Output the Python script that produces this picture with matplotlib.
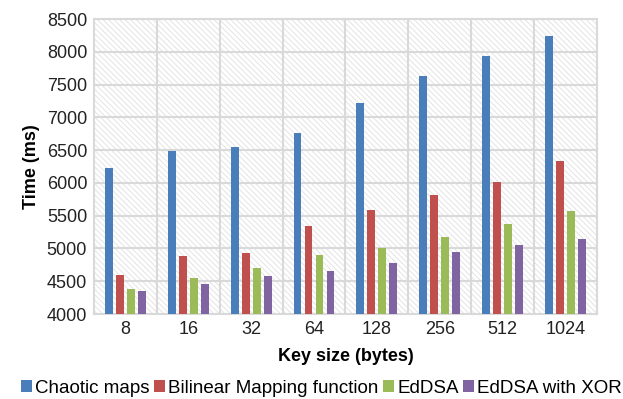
import matplotlib.pyplot as plt
import numpy as np
from matplotlib.patches import Rectangle

plt.rcParams['font.family'] = ['Liberation Sans', 'DejaVu Sans']
plt.rcParams['hatch.linewidth'] = 0.7

key_sizes = ['8', '16', '32', '64', '128', '256', '512', '1024']
chaotic = [6225, 6490, 6555, 6755, 7215, 7630, 7935, 8245]
bilinear = [4590, 4885, 4925, 5350, 5585, 5815, 6020, 6330]
eddsa = [4375, 4555, 4700, 4905, 5000, 5180, 5380, 5570]
eddsa_xor = [4355, 4460, 4575, 4655, 4780, 4950, 5055, 5140]

series = [
    ('Chaotic maps', chaotic, '#4a7ebb'),
    ('Bilinear Mapping function', bilinear, '#c0504d'),
    ('EdDSA', eddsa, '#9bbb59'),
    ('EdDSA with XOR', eddsa_xor, '#8064a2'),
]

fig = plt.figure(figsize=(6.23, 3.99), dpi=100)
ax = fig.add_axes([0.151, 0.213, 0.807, 0.739])

# hatched plot background
ax.add_patch(Rectangle((0, 0), 1, 1, transform=ax.transAxes, facecolor='white',
                       edgecolor='#e4e4e4', linewidth=0, hatch='\\' * 6, zorder=0))

x = np.arange(len(key_sizes))
width = 0.125
step = 0.175
for i, (name, vals, color) in enumerate(series):
    ax.bar(x + (i - 1.5) * step, np.array(vals) - 4000, width, bottom=4000,
           color=color, label=name, zorder=3)

ax.set_xlim(-0.5, len(key_sizes) - 0.5)
ax.set_ylim(4000, 8500)
ax.set_yticks(np.arange(4000, 8501, 500))
ax.set_xticks(x)
ax.set_xticklabels(key_sizes)

for yv in np.arange(4500, 8500, 500):
    ax.axhline(yv, color='#d9d9d9', linewidth=1.5, zorder=1)
for xv in np.arange(0.5, len(key_sizes) - 0.5, 1):
    ax.axvline(xv, color='#d9d9d9', linewidth=1.5, zorder=1)

for s in ax.spines.values():
    s.set_color('#d9d9d9')
    s.set_linewidth(1.5)
ax.tick_params(length=0, labelsize=13, colors='#222222', pad=5)

ax.set_ylabel('Time (ms)', fontsize=13, fontweight='bold', labelpad=5)
ax.set_xlabel('Key size (bytes)', fontsize=13, fontweight='bold', labelpad=7)

ax.legend(loc='upper center', bbox_to_anchor=(0.452, -0.198), ncol=4, frameon=False,
          fontsize=13.5, handlelength=0.6, handleheight=0.6, handletextpad=0.15,
          columnspacing=0.25, borderaxespad=0)

fig.savefig('out.png', dpi=100)
